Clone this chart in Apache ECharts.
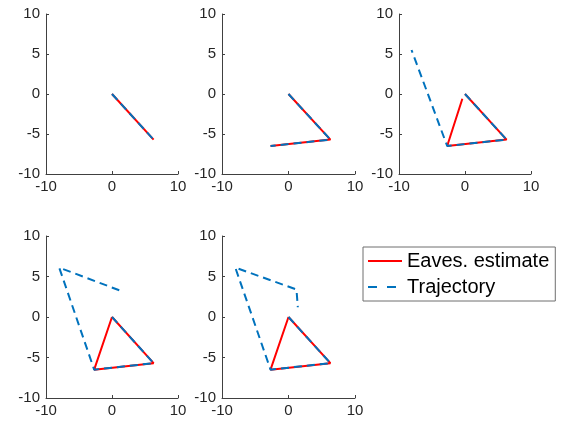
<!DOCTYPE html>
<html>
<head>
<meta charset="utf-8">
<script src="https://cdn.jsdelivr.net/npm/echarts@6/dist/echarts.min.js"></script>
<style>
html,body{margin:0;padding:0;background:#fff;}
#chart{width:564px;height:426px;}
</style>
</head>
<body>
<div id="chart"></div>
<script>
// Axis ticks
const xTicks = [-10, 0, 10];
const yTicks = [-10, -5, 0, 5, 10];

// Eaves. estimate (red solid) per panel
const est1X = [0, 6.3];
const est1Y = [0, -5.7];
const est2X = [0, 6.3, -2.7];
const est2Y = [0, -5.7, -6.5];
const est3X = [0, 6.3, -2.7, -0.4];
const est3Y = [0, -5.7, -6.5, -0.6];
const est4X = [0, 6.3, -2.7, 0];
const est4Y = [0, -5.7, -6.5, 0];
const est5X = [0, 6.3, -2.7, 0];
const est5Y = [0, -5.7, -6.5, 0];

// Trajectory (blue dashed) per panel
const traj1X = [0, 6.3];
const traj1Y = [0, -5.7];
const traj2X = [0, 6.3, -2.7];
const traj2Y = [0, -5.7, -6.5];
const traj3X = [0, 6.3, -2.7, -8.1];
const traj3Y = [0, -5.7, -6.5, 5.5];
const traj4X = [0, 6.3, -2.7, -8.0, 1.1];
const traj4Y = [0, -5.7, -6.5, 6.1, 3.3];
const traj5X = [0, 6.3, -2.7, -8.0, 1.2, 1.4];
const traj5Y = [0, -5.7, -6.5, 6.1, 3.4, 1.2];

const estList = [[est1X, est1Y], [est2X, est2Y], [est3X, est3Y], [est4X, est4Y], [est5X, est5Y]];
const trajList = [[traj1X, traj1Y], [traj2X, traj2Y], [traj3X, traj3Y], [traj4X, traj4Y], [traj5X, traj5Y]];

const grids = [
  {left: 46, top: 14, width: 132, height: 160},
  {left: 222, top: 14, width: 133, height: 160},
  {left: 399, top: 14, width: 132, height: 160},
  {left: 46, top: 236, width: 132, height: 162},
  {left: 222, top: 236, width: 133, height: 162}
];

const axisColor = '#404040';
const textColor = '#262626';
const font = 'Liberation Sans, Arial, Helvetica, sans-serif';

function zip(xs, ys) { return xs.map((x, i) => [x, ys[i]]); }

const xAxes = grids.map((g, i) => ({
  type: 'value', gridIndex: i, min: xTicks[0], max: xTicks[xTicks.length - 1],
  interval: xTicks[1] - xTicks[0], position: 'bottom',
  axisLine: {show: true, onZero: false, lineStyle: {color: axisColor, width: 1}},
  axisTick: {show: true, inside: true, length: 3, lineStyle: {color: axisColor}},
  axisLabel: {color: textColor, fontSize: 15, fontFamily: font, margin: 5},
  splitLine: {show: false}
}));
const yAxes = grids.map((g, i) => ({
  type: 'value', gridIndex: i, min: yTicks[0], max: yTicks[yTicks.length - 1],
  interval: yTicks[1] - yTicks[0], position: 'left',
  axisLine: {show: true, onZero: false, lineStyle: {color: axisColor, width: 1}},
  axisTick: {show: true, inside: true, length: 3, lineStyle: {color: axisColor}},
  axisLabel: {color: textColor, fontSize: 15, fontFamily: font, margin: 6},
  splitLine: {show: false}
}));

const series = [];
estList.forEach((d, i) => {
  series.push({
    name: 'Eaves. estimate', type: 'line', xAxisIndex: i, yAxisIndex: i,
    data: zip(d[0], d[1]), symbol: 'none', animation: false, z: 2,
    lineStyle: {color: '#ff0000', width: 2}, itemStyle: {color: '#ff0000'}
  });
});
trajList.forEach((d, i) => {
  series.push({
    name: 'Trajectory', type: 'line', xAxisIndex: i, yAxisIndex: i,
    data: zip(d[0], d[1]), symbol: 'none', animation: false, z: 3,
    lineStyle: {color: '#0072BD', width: 2, type: [8, 5]}, itemStyle: {color: '#0072BD'}
  });
});

const chart = echarts.init(document.getElementById('chart'), null, {renderer: 'canvas'});
chart.setOption({
  backgroundColor: '#ffffff',
  animation: false,
  grid: grids.map(g => Object.assign({containLabel: false}, g)),
  xAxis: xAxes,
  yAxis: yAxes,
  legend: {
    orient: 'vertical', left: 363, top: 247,
    padding: [4, 6, 4, 4], itemGap: 6, itemWidth: 34, itemHeight: 14,
    borderColor: '#6e6e6e', borderWidth: 1, backgroundColor: '#ffffff',
    selectedMode: false,
    textStyle: {color: '#000000', fontSize: 20, fontFamily: font, lineHeight: 20},
    data: [
      {name: 'Eaves. estimate', lineStyle: {color: '#ff0000', width: 2, type: 'solid'},
       itemStyle: {color: 'rgba(0,0,0,0)', borderWidth: 0, opacity: 0}},
      {name: 'Trajectory', lineStyle: {color: '#0072BD', width: 2, type: [9, 10]},
       itemStyle: {color: 'rgba(0,0,0,0)', borderWidth: 0, opacity: 0}}
    ]
  },
  series: series
});
</script>
</body>
</html>
